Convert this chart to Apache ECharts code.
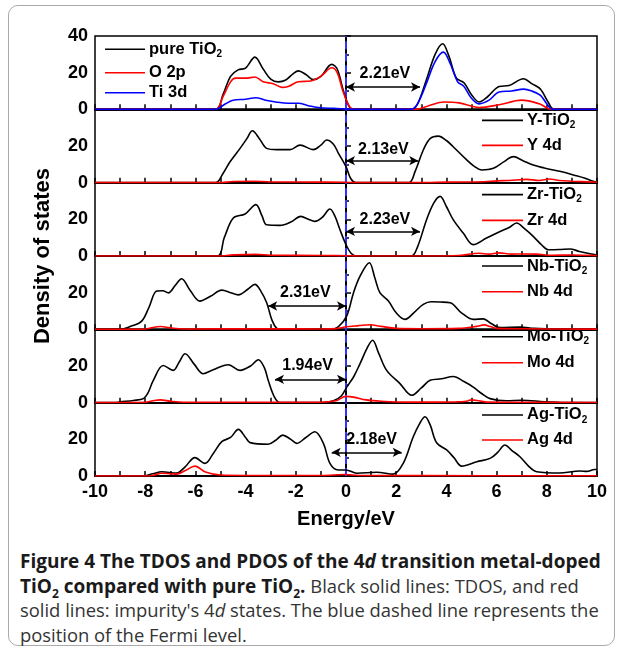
<!DOCTYPE html>
<html>
<head>
<meta charset="utf-8">
<script src="https://cdn.jsdelivr.net/npm/echarts@6/dist/echarts.min.js"></script>
<style>
  html,body{margin:0;padding:0;background:#fff;}
  #frame{position:absolute;left:8px;top:5px;width:605px;height:639px;border:1px solid #aaa;border-radius:10px;}
  #chart{position:absolute;left:0;top:0;width:623px;height:540px;}
  #cap{position:absolute;left:20px;top:549px;font-family:"Open Sans",sans-serif;font-size:18.4px;line-height:24.5px;color:#333;white-space:nowrap;}
  #cap b{color:#1a1a1a;font-size:19px;}
  #cap sub{font-size:12px;line-height:0;}
</style>
</head>
<body>
<div id="frame"></div>
<div id="chart"></div>
<div id="cap">
<b>Figure 4 The TDOS and PDOS of the 4<i>d</i> transition metal-doped</b><br>
<b>TiO<sub>2</sub> compared with pure TiO<sub>2</sub>.</b> Black solid lines: TDOS, and red<br>
solid lines: impurity's 4<i>d</i> states. The blue dashed line represents the<br>
position of the Fermi level.
</div>
<script>
// ---------- data (energy eV, density of states) ----------
const pureTDOS = [[-10,0],[-5.2,0],[-4.9,8],[-4.6,18],[-4.3,21.5],[-4.0,22.5],[-3.63,28.5],[-3.3,22],[-3.0,16.5],[-2.7,15],[-2.4,16],[-2.1,19.5],[-1.9,21],[-1.6,19],[-1.3,16.2],[-1.0,18],[-0.57,24.5],[-0.35,22],[-0.1,10],[0.15,1],[0.4,0],[2.6,0],[2.85,3],[3.2,16],[3.55,30],[3.85,35.8],[4.1,29],[4.4,17],[4.7,14.5],[5.0,8],[5.3,4],[5.65,7],[6.1,12.5],[6.5,13],[7.07,16.7],[7.4,14],[7.75,11],[8.05,4],[8.3,0],[10,0]];
const pureO2p = [[-10,0],[-5.2,0],[-4.9,7],[-4.6,15],[-4.4,17],[-4.0,17],[-3.63,17.6],[-3.3,15],[-2.9,14],[-2.55,12],[-2.3,12.5],[-1.9,15],[-1.4,15.5],[-1.0,18],[-0.57,22.7],[-0.35,20],[-0.1,9],[0.2,0.5],[0.4,0],[2.8,0],[3.3,2],[3.9,4],[4.5,3.5],[5.3,1],[6.1,2.5],[7.0,5],[7.7,3],[8.2,0],[10,0]];
const pureTi3d = [[-10,0],[-5.2,0],[-4.8,3],[-4.5,5],[-4.0,5.5],[-3.6,6.3],[-3.2,5],[-2.8,4],[-2.3,3.3],[-1.9,3.3],[-1.5,2],[-1.1,1],[-0.5,0.5],[0,0.2],[0.3,0],[2.6,0],[2.85,3],[3.2,14],[3.55,26],[3.88,31.2],[4.15,25],[4.45,15],[4.7,12.5],[5.0,6],[5.3,3],[5.7,5],[6.1,9.5],[6.6,10],[7.07,11],[7.4,10],[7.75,7.6],[8.0,3],[8.25,0],[10,0]];

const yTDOS = [[-10,0],[-5.2,0],[-4.9,5],[-4.62,11.4],[-4.22,18.7],[-3.95,24],[-3.73,28.3],[-3.45,24],[-3.16,18.7],[-2.76,18],[-2.23,18],[-1.83,20.5],[-1.3,18],[-1.0,20.5],[-0.77,23.3],[-0.5,21],[-0.3,16],[0,8.7],[0.2,2],[0.4,0],[2.5,0],[2.75,6],[3.08,17.8],[3.35,24],[3.68,25.4],[4.0,23],[4.27,19.6],[4.81,12.4],[5.1,9],[5.4,6.9],[5.87,7.8],[6.3,11.5],[6.67,14.2],[7.05,12],[7.46,9.6],[7.9,8],[8.26,6.9],[8.6,6],[9.06,4.2],[9.5,2.5],[9.85,0.8],[10,0.3]];
const y4d = [[-10,0],[-5.1,0],[-4.5,0.6],[-3.7,0.8],[-3,0.4],[-1,0.3],[0,0.2],[0.3,0],[3,0],[4,0.3],[5.5,0.5],[6.0,1],[6.5,1.2],[7.2,1.8],[7.7,1.2],[8.1,2],[8.5,1.2],[9.0,0.8],[10,0.2]];

const zrTDOS = [[-10,0],[-5.15,0],[-4.85,10],[-4.49,20.7],[-4.02,22.9],[-3.59,28],[-3.35,22],[-3.16,17],[-2.63,16.7],[-2.2,18.5],[-1.8,21.6],[-1.5,20],[-1.24,18.9],[-0.95,21],[-0.64,25.6],[-0.45,22],[-0.24,14.3],[0,6.2],[0.2,1.5],[0.4,0],[2.6,0],[2.85,5],[3.21,19.8],[3.5,29],[3.75,32.5],[4.0,27],[4.27,19.8],[4.67,12.5],[5.07,6.2],[5.6,9.8],[6.14,13.4],[6.5,15.5],[6.8,18],[7.1,15],[7.46,10.7],[7.8,6],[8.06,3.4],[8.5,3.5],[8.92,3.8],[9.3,2.5],[9.72,1.2],[10,0.5]];
const zr4d = [[-10,0],[-5.1,0],[-4.5,0.6],[-3.6,0.9],[-3,0.4],[-1,0.3],[0.2,0.1],[0.4,0],[3,0],[4.5,0.3],[5.3,1.5],[5.7,1.0],[6.1,1.7],[6.6,1.0],[7.0,1.1],[7.6,1],[8.2,0.4],[9,0.5],[10,0.2]];

const nbTDOS = [[-10,0],[-9.0,0],[-8.6,1.5],[-8.14,4.5],[-7.85,12],[-7.54,20.9],[-7.3,21],[-7.08,19.9],[-6.8,24],[-6.55,27.6],[-6.2,21],[-5.82,15.4],[-5.4,18],[-4.95,21.4],[-4.6,20],[-4.29,18.8],[-3.9,22],[-3.63,24.5],[-3.4,21],[-3.16,14.5],[-2.95,5],[-2.76,0.5],[-2.6,0],[-0.6,0],[-0.3,1.5],[0.03,7.3],[0.3,20],[0.56,29],[0.93,36.3],[1.15,28],[1.35,20],[1.69,15.4],[2.0,9],[2.35,5.4],[2.7,9],[3.08,13.6],[3.4,15],[3.75,14.9],[4.15,14.5],[4.6,9],[5.07,5.4],[5.47,5.7],[5.8,3],[6.14,0.9],[6.93,1.2],[7.5,0.5],[8.1,0.3],[10,0]];
const nb4d = [[-10,0],[-8,0.2],[-7.7,1],[-7.4,1.5],[-7.0,0.8],[-6.5,0.2],[-3,0.3],[-1,0.2],[-0.3,0.5],[0,1.4],[0.5,2],[0.96,2.5],[1.4,1.6],[2.0,0.5],[3,0.3],[4.5,0.5],[5.2,1.6],[5.5,2.4],[5.75,1.5],[6.0,0.5],[7,0.3],[10,0.1]];

const moTDOS = [[-10,0],[-9.2,0],[-9.0,0.4],[-8.47,1.2],[-8.07,2.2],[-7.9,5],[-7.68,12],[-7.28,20.3],[-6.88,17.6],[-6.65,22],[-6.41,26.7],[-6.05,21],[-5.69,15.8],[-5.29,18],[-4.69,20.7],[-4.22,17.6],[-3.8,20],[-3.49,23.4],[-3.25,19],[-3.1,12.2],[-2.85,3],[-2.63,0],[-0.9,0],[-0.5,1],[-0.2,3.5],[0.03,8.5],[0.3,14],[0.56,21.3],[0.85,30],[1.06,34],[1.3,27],[1.62,17.6],[2.15,10.4],[2.62,4],[3.0,8],[3.35,12.2],[3.8,13],[4.27,14.3],[4.7,11.5],[5.07,8.5],[5.4,5],[5.74,2.2],[6.4,1],[7.0,1.3],[7.9,0.5],[8.5,0.2],[10,0]];
const mo4d = [[-10,0],[-8,0.2],[-7.7,1],[-7.4,1.5],[-7.0,0.8],[-6.5,0.2],[-3,0.2],[-1,0.2],[-0.4,1],[0,3.4],[0.3,3],[0.8,1.5],[1.4,0.8],[2.5,0.3],[4.4,0.4],[4.8,0.8],[5.0,1.5],[5.3,1],[5.6,0.3],[7,0.2],[10,0.1]];

const agTDOS = [[-10,0],[-8.1,0],[-7.7,1.2],[-7.34,2.3],[-6.75,1.6],[-6.41,5],[-6.02,10],[-5.62,6.9],[-5.3,12],[-4.95,18.7],[-4.6,21],[-4.29,25.4],[-4.0,21],[-3.82,18.2],[-3.1,17.3],[-2.8,19.5],[-2.52,22.3],[-2.2,20],[-1.96,17.8],[-1.6,21],[-1.24,24.1],[-0.9,17.8],[-0.64,6.9],[-0.31,3.3],[0,3.3],[0.43,1.5],[1.22,2],[1.88,1],[2.28,6.9],[2.68,21.4],[2.95,29],[3.15,32.3],[3.35,28],[3.61,18.1],[4.01,14.2],[4.3,10],[4.61,5.4],[5.21,7.8],[5.74,9.6],[6.05,13],[6.33,16.9],[6.6,14],[6.93,10.5],[7.3,5],[7.6,2.3],[8.5,1.6],[9.32,2.7],[9.6,2.5],[9.9,3.5],[10,3.5]];
const ag4d = [[-10,0],[-8,0],[-7.7,0.3],[-7.34,1.5],[-7,1.2],[-6.75,1],[-6.4,3],[-6.02,5.4],[-5.6,2.2],[-5.0,0.5],[-4,0.3],[-1,0.3],[0,0.8],[0.5,0.3],[3,0.2],[10,0.1]];

// Fermi level (E = 0) drawn across each panel's full height
const fermiLine = [[0,0],[0,40]];

// band gap annotations
const gapLabels = ['2.21eV','2.13eV','2.23eV','2.31eV','1.94eV','2.18eV'];
const gapFrom   = [0, 0, 0, -3.1, -2.83, -0.57];
const gapTo     = [2.95, 2.88, 2.95, 0, 0, 2.22];
const gapLevel  = [12.2, 12, 13.4, 12.7, 12.7, 12.9];
const gapTextE  = [1.55, 1.49, 1.55, -1.62, -1.53, 1.02];
const gapTextY  = [19.5, 17.8, 19.8, 20.3, 20, 20];

const xTicks = [-10,-8,-6,-4,-2,0,2,4,6,8,10];
const yTicks = [0,20,40];

const panels = [
  {series:[{name:'pure TiO2', sub:true, data:pureTDOS, color:'#000'},{name:'O 2p', data:pureO2p, color:'#ff0000'},{name:'Ti 3d', data:pureTi3d, color:'#0000ff'}]},
  {series:[{name:'Y-TiO2', sub:true, data:yTDOS, color:'#000'},{name:'Y 4d', data:y4d, color:'#ff0000'}]},
  {series:[{name:'Zr-TiO2', sub:true, data:zrTDOS, color:'#000'},{name:'Zr 4d', data:zr4d, color:'#ff0000'}]},
  {series:[{name:'Nb-TiO2', sub:true, data:nbTDOS, color:'#000'},{name:'Nb 4d', data:nb4d, color:'#ff0000'}]},
  {series:[{name:'Mo-TiO2', sub:true, data:moTDOS, color:'#000'},{name:'Mo 4d', data:mo4d, color:'#ff0000'}]},
  {series:[{name:'Ag-TiO2', sub:true, data:agTDOS, color:'#000'},{name:'Ag 4d', data:ag4d, color:'#ff0000'}]}
];

// ---------- layout ----------
const FONT = '"Liberation Sans", Arial, sans-serif';
const L = 95, W = 502, TOP = 36, H = 73.33;
const legendRows = [[13.3, 36.7, 56.7],[11,36],[12,37.7],[10,35.7],[7.4,33.4],[12.3,37.3]];

const chart = echarts.init(document.getElementById('chart'), null, {renderer:'canvas'});
const grid=[], xAxis=[], yAxis=[], series=[], graphic=[];

panels.forEach((p, i) => {
  const top = TOP + i*H;
  grid.push({left:L, width:W, top:top, height:H, show:true, borderColor:'#000', borderWidth:1.5, backgroundColor:'transparent'});
  xAxis.push({
    gridIndex:i, type:'value', min:-10, max:10, interval:2,
    axisLine:{onZero:false, lineStyle:{color:'#000', width:2}},
    axisTick:{inside:true, length:5, lineStyle:{color:'#000', width:1.5}},
    minorTick:{show:true, splitNumber:2, length:5, lineStyle:{color:'#000', width:1.5}},
    splitLine:{show:false}, minorSplitLine:{show:false},
    axisLabel:{show:i===5, color:'#000', fontSize:18, fontWeight:'bold', fontFamily:FONT, margin:7,
      formatter: v => xTicks.includes(v) ? String(v) : ''}
  });
  yAxis.push({
    gridIndex:i, type:'value', min:0, max:40, interval:20,
    axisLine:{show:true, lineStyle:{color:'#000', width:2}},
    axisTick:{inside:true, length:5, lineStyle:{color:'#000', width:1.5}},
    minorTick:{show:true, splitNumber:2, length:3, lineStyle:{color:'#000', width:1.5}},
    splitLine:{show:false}, minorSplitLine:{show:false},
    axisLabel:{color:'#000', fontSize:18, fontWeight:'bold', fontFamily:FONT, margin:7,
      formatter: v => (i>0 && v===40) ? '' : (yTicks.includes(v) ? String(v) : '')}
  });

  // Fermi level dashed line
  series.push({
    name:'fermi'+i, type:'line', xAxisIndex:i, yAxisIndex:i, data:fermiLine,
    showSymbol:false, symbol:'none', silent:true, animation:false, z:1,
    lineStyle:{color:'#3333ff', width:2, type:'dashed'}
  });

  p.series.forEach((s, k) => {
    const ser = {
      name:s.name, type:'line', xAxisIndex:i, yAxisIndex:i, data:s.data,
      smooth:0.35, showSymbol:false, symbol:'none', silent:true, animation:false,
      lineStyle:{color:s.color, width:1.6}, itemStyle:{color:s.color}, z:2+k
    };
    if (k===0) {
      ser.markLine = {
        silent:true, animation:false, symbol:['arrow','arrow'], symbolSize:[7,9],
        lineStyle:{color:'#000', width:1.5, type:'solid'}, label:{show:false},
        data:[[{coord:[gapFrom[i], gapLevel[i]]},{coord:[gapTo[i], gapLevel[i]]}]]
      };
      ser.markPoint = {
        silent:true, animation:false, symbol:'rect', symbolSize:1, itemStyle:{color:'rgba(0,0,0,0)'},
        label:{show:true, position:'inside', color:'#000', fontSize:16, fontWeight:'bold', fontFamily:FONT,
          formatter: gapLabels[i]},
        data:[{coord:[gapTextE[i], gapTextY[i]]}]
      };
    }
    series.push(ser);

    // legend entries
    const ly = top + legendRows[i][k];
    const lx1 = i===0 ? 105 : 482, lx2 = i===0 ? 145 : 523, tx = i===0 ? 149 : 527;
    graphic.push({type:'line', silent:true, shape:{x1:lx1, y1:ly, x2:lx2, y2:ly}, style:{stroke:s.color, lineWidth:1.6}});
    const txt = s.sub ? '{a|' + s.name.slice(0,-1) + '}{s|2}' : '{a|' + s.name + '}';
    graphic.push({type:'text', silent:true, x:tx, y:ly, style:{
      text:txt, verticalAlign:'middle', align:'left',
      rich:{a:{fontSize:16.5, fontWeight:'bold', fontFamily:FONT, fill:'#000', lineHeight:20},
            s:{fontSize:10, fontWeight:'bold', fontFamily:FONT, fill:'#000', padding:[10,0,0,0], lineHeight:20}}
    }});
  });
});

graphic.push({type:'text', silent:true, x:43, y:256, rotation:Math.PI/2, style:{
  text:'Density of states', fontSize:22, fontWeight:'bold', fontFamily:FONT, fill:'#000', align:'center', verticalAlign:'middle'}});
graphic.push({type:'text', silent:true, x:346, y:519, style:{
  text:'Energy/eV', fontSize:20, fontWeight:'bold', fontFamily:FONT, fill:'#000', align:'center', verticalAlign:'middle'}});

chart.setOption({animation:false, grid, xAxis, yAxis, series, graphic});
</script>
</body>
</html>
